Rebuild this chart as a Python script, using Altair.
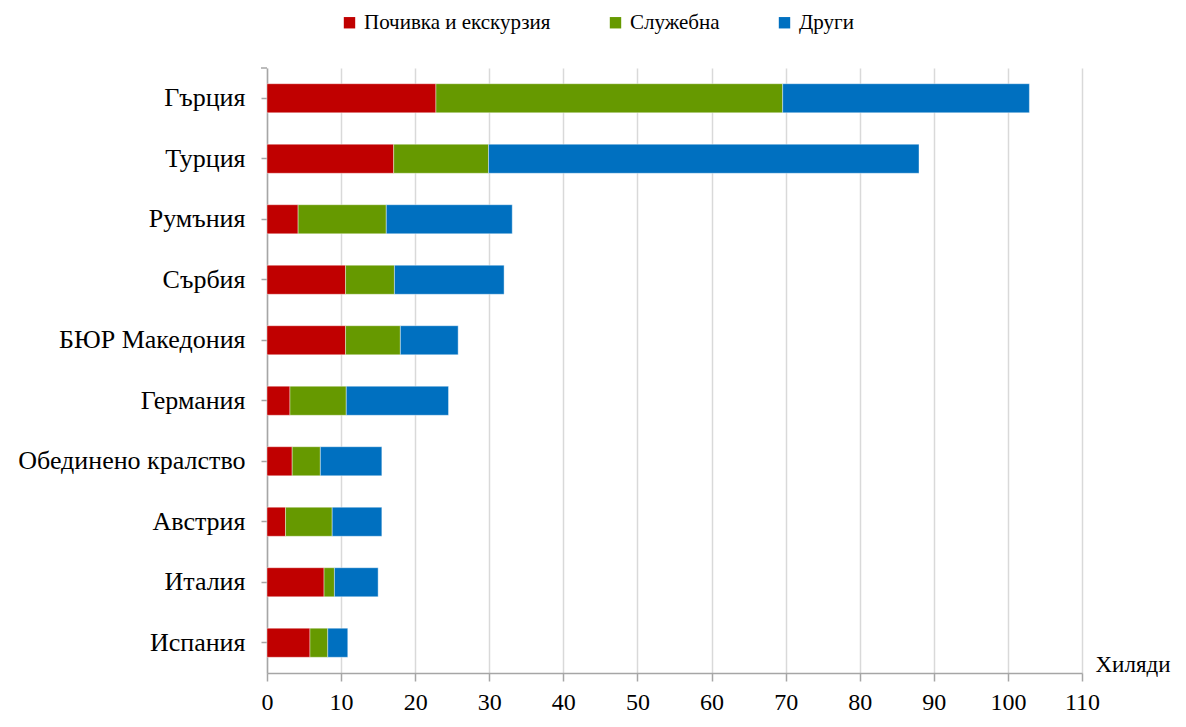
import altair as alt
import pandas as pd

countries = ["Гърция", "Турция", "Румъния", "Сърбия", "БЮР Македония",
             "Германия", "Обединено кралство", "Австрия", "Италия", "Испания"]
leisure = [22.8, 17.1, 4.2, 10.6, 10.6, 3.1, 3.4, 2.5, 7.7, 5.8]
business = [46.8, 12.8, 11.9, 6.6, 7.4, 7.6, 3.8, 6.3, 1.4, 2.4]
other = [33.3, 58.1, 17.0, 14.8, 7.8, 13.8, 8.3, 6.7, 5.9, 2.7]
series = ["Почивка и екскурзия", "Служебна", "Други"]
colors = ["#c00000", "#669900", "#0070c0"]
x_ticks = list(range(0, 111, 10))

rows = []
for i, c in enumerate(countries):
    for k, (s, vals) in enumerate(zip(series, [leisure, business, other])):
        rows.append({"country": c, "series": s, "value": vals[i], "order": k})
df = pd.DataFrame(rows)

FONT = "Liberation Serif"
GRAY = "#a6a6a6"

bars = alt.Chart(df).mark_bar(stroke="white", strokeWidth=0.8, strokeOpacity=0.5).encode(
    x=alt.X("value:Q", stack="zero",
            scale=alt.Scale(domain=[0, 110], nice=False),
            axis=alt.Axis(values=x_ticks, title="Хиляди", grid=True, gridColor="#d9d9d9",
                          gridWidth=1.5, domainColor=GRAY, domainWidth=1.5,
                          tickColor=GRAY, tickSize=8, tickWidth=1.5,
                          labelFont=FONT, labelFontSize=24, labelColor="black",
                          labelPadding=9, labelFlush=False, labelOverlap=False,
                          titleFont=FONT, titleFontSize=23, titleFontWeight="normal",
                          titleColor="black", titleX=828, titleY=-2,
                          titleAlign="left", titleBaseline="alphabetic")),
    y=alt.Y("country:N", sort=countries,
            scale=alt.Scale(paddingInner=0.52, paddingOuter=0.26),
            axis=alt.Axis(title=None, domainColor=GRAY, domainWidth=1.5,
                          tickColor=GRAY, tickSize=6, tickWidth=1.5,
                          labelFont=FONT, labelFontSize=26, labelColor="black",
                          labelPadding=16, labelLimit=0)),
    color=alt.Color("series:N", scale=alt.Scale(domain=series, range=colors),
                    legend=alt.Legend(orient="none", legendX=72, legendY=-56,
                                      direction="horizontal", title=None,
                                      symbolType="square", symbolSize=130,
                                      symbolStrokeWidth=0, symbolOpacity=1,
                                      labelFont=FONT, labelFontSize=21,
                                      labelColor="black", labelOffset=4,
                                      labelLimit=0, columnPadding=54)),
    order=alt.Order("order:Q"),
)

stub = alt.Chart(alt.Data(values=[{}])).mark_rule(color=GRAY, strokeWidth=1.5).encode(
    x=alt.value(-6), x2=alt.value(0), y=alt.value(0)
)

chart = alt.layer(bars, stub).properties(
    width=815, height=605,
    autosize=alt.AutoSizeParams(type="none"),
    padding={"left": 259, "top": 60, "right": 96, "bottom": 45},
).configure(font=FONT).configure_view(stroke=None)

chart.save("out.html", embed_options={"renderer": "svg", "actions": False})
